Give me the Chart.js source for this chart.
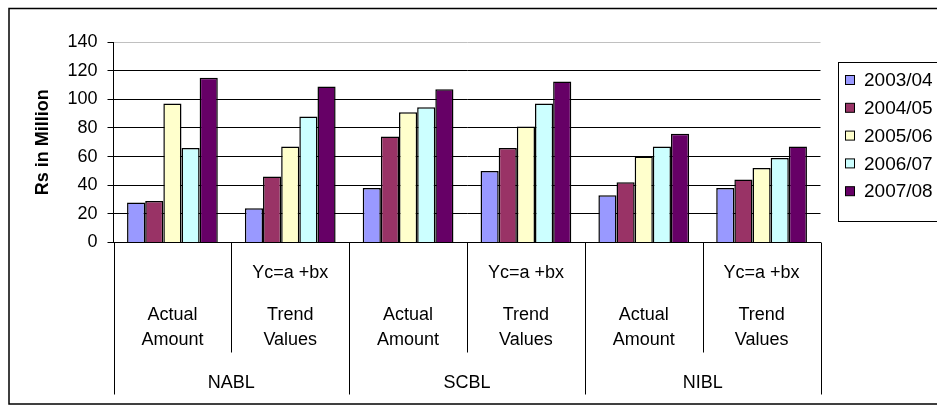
<!DOCTYPE html>
<html>
<head>
<meta charset="utf-8">
<script src="https://cdn.jsdelivr.net/npm/chart.js@4/dist/chart.umd.min.js"></script>
<style>
  html, body { margin: 0; padding: 0; background: #fff; }
  #wrap { width: 937px; height: 415px; }
</style>
</head>
<body>
<div id="wrap"><canvas id="c" width="937" height="415"></canvas></div>
<script>
// ---- data ----
const categories = ["NABL Actual", "NABL Trend", "SCBL Actual", "SCBL Trend", "NIBL Actual", "NIBL Trend"];
const subLabels = [["", "Actual", "Amount"], ["Yc=a +bx", "Trend", "Values"],
                   ["", "Actual", "Amount"], ["Yc=a +bx", "Trend", "Values"],
                   ["", "Actual", "Amount"], ["Yc=a +bx", "Trend", "Values"]];
const groups = ["NABL", "SCBL", "NIBL"];
const seriesNames = ["2003/04", "2004/05", "2005/06", "2006/07", "2007/08"];
const s2003 = [28, 24, 38, 50, 33, 38];
const s2004 = [29, 46, 74, 66, 42, 44];
const s2005 = [97, 67, 91, 81, 60, 52];
const s2006 = [66, 88, 94.5, 97, 67, 59];
const s2007 = [115, 109, 107, 112.5, 76, 67];
const yMin = 0, yMax = 140, yStep = 20;
const colors = ["#9999FF", "#993366", "#FFFFCC", "#CCFFFF", "#660066"];

const FONT = '"Liberation Sans", Arial, sans-serif';
const seriesData = [s2003, s2004, s2005, s2006, s2007];

const decor = {
  id: 'decor',
  afterDraw(chart) {
    const ctx = chart.ctx;
    const x = chart.scales.x;
    const y = chart.scales.y;
    const base = y.getPixelForValue(0);
    ctx.save();
    // outer border
    ctx.strokeStyle = '#000';
    ctx.lineWidth = 1.5;
    ctx.strokeRect(9, 8.5, 940, 395.5);
    // category separators
    ctx.lineWidth = 1;
    const n = categories.length;
    const edges = [];
    for (let i = 0; i <= n; i++) {
      let px;
      if (i === 0) px = x.left;
      else if (i === n) px = x.right;
      else px = (x.getPixelForValue(i - 1) + x.getPixelForValue(i)) / 2;
      edges.push(px);
      const outer = (i % 2 === 0);
      ctx.beginPath();
      ctx.moveTo(Math.round(px) + 0.5, base);
      ctx.lineTo(Math.round(px) + 0.5, outer ? 394.5 : 352.5);
      ctx.stroke();
    }
    // category labels
    ctx.fillStyle = '#000';
    ctx.font = '18px ' + FONT;
    ctx.textAlign = 'center';
    ctx.textBaseline = 'middle';
    const rows = [273, 315, 340];
    for (let i = 0; i < n; i++) {
      const cx = x.getPixelForValue(i);
      subLabels[i].forEach((t, j) => { if (t) ctx.fillText(t, cx, rows[j]); });
    }
    for (let g = 0; g < groups.length; g++) {
      const cx = (edges[2 * g] + edges[2 * g + 2]) / 2;
      ctx.fillText(groups[g], cx, 383);
    }
    // legend
    ctx.lineWidth = 1;
    ctx.strokeStyle = '#000';
    ctx.strokeRect(838.5, 62.5, 110, 159);
    ctx.textAlign = 'left';
    ctx.font = '19px ' + FONT;
    chart.data.datasets.forEach((ds, i) => {
      const cy = 80 + i * 27.8;
      ctx.fillStyle = ds.backgroundColor;
      ctx.fillRect(845.5, cy - 4.5, 9, 9);
      ctx.strokeRect(845.5, cy - 4.5, 9, 9);
      ctx.fillStyle = '#000';
      ctx.fillText(ds.label, 864, cy + 1);
    });
    ctx.restore();
  }
};

new Chart(document.getElementById('c'), {
  type: 'bar',
  data: {
    labels: categories,
    datasets: seriesNames.map((name, i) => ({
      label: name,
      data: seriesData[i],
      backgroundColor: colors[i],
      borderColor: '#000',
      borderWidth: 1.5,
      barPercentage: 1.0,
      categoryPercentage: 0.77
    }))
  },
  options: {
    responsive: false,
    devicePixelRatio: 1,
    animation: false,
    layout: { padding: { left: 0, top: 42, right: 116.5, bottom: 0 } },
    plugins: { legend: { display: false }, tooltip: { enabled: false } },
    scales: {
      x: {
        ticks: { display: false },
        grid: { display: false },
        border: { display: true, color: '#000', width: 1 },
        afterFit(scale) { scale.height = 172.5; }
      },
      y: {
        min: yMin, max: yMax,
        ticks: { stepSize: yStep, color: '#000', font: { size: 18, family: FONT }, padding: 10 },
        grid: {
          color: (c) => (c.tick && c.tick.value === yMax) ? '#c0c0c0' : '#000',
          tickColor: '#000',
          tickLength: 6,
          lineWidth: 1
        },
        border: { display: true, color: '#000', width: 1 },
        title: {
          display: true, text: 'Rs in Million', color: '#000',
          font: { size: 18, weight: 'bold', family: FONT },
          padding: { top: 32, bottom: 0 }
        },
        afterFit(scale) { scale.width = 113.5; }
      }
    }
  },
  plugins: [decor]
});
</script>
</body>
</html>
